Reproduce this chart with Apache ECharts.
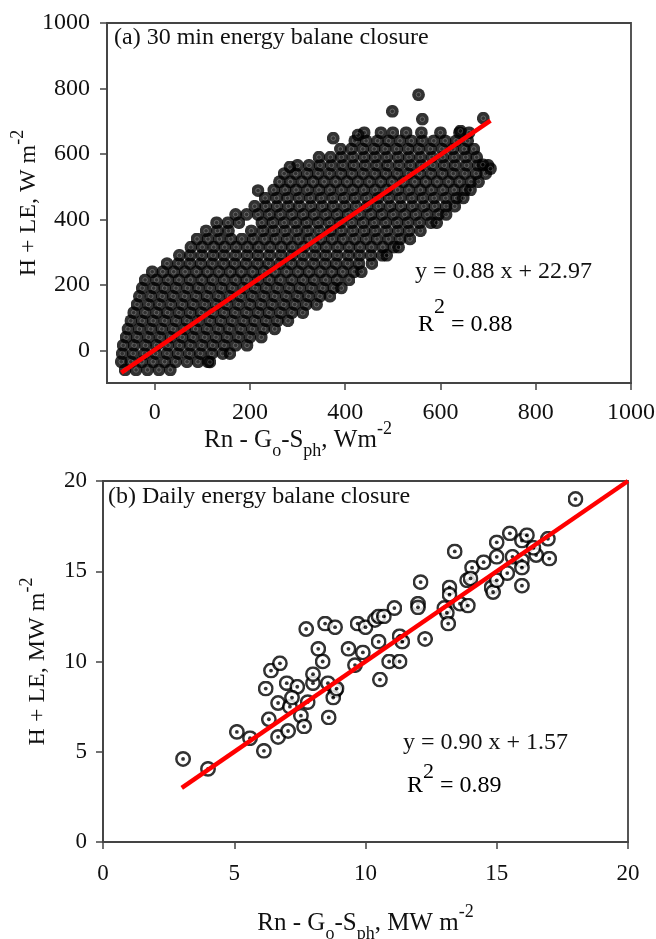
<!DOCTYPE html>
<html>
<head>
<meta charset="utf-8">
<script src="https://cdn.jsdelivr.net/npm/echarts@6/dist/echarts.min.js"></script>
<style>
  html, body { margin: 0; padding: 0; background: #fff; }
  #chart { width: 656px; height: 939px; }
</style>
</head>
<body>
<div id="chart"></div>
<script>
// (a) 30 min data, read row by row from the point cloud
var rowY = [-60, -35, -10, 15, 40, 65, 90, 115, 140, 165, 190, 215, 240, 265, 290, 315,
  340, 365, 390, 415, 440, 465, 490, 515, 540, 565, 590, 615, 640, 665];
var rowX = [
  [-62, -39, -15, 9, 33],
  [-70, -50, -27, -3, 21, 44, 68, 91, 112],
  [-68, -45, -21, 2, 26, 49, 73, 96, 120, 143, 158],
  [-66, -43, -19, 4, 28, 52, 75, 99, 122, 146, 170, 194],
  [-60, -37, -13, 11, 34, 58, 81, 105, 129, 152, 176, 200, 224],
  [-56, -32, -8, 15, 39, 63, 86, 110, 134, 157, 181, 205, 229, 252],
  [-50, -26, -3, 21, 45, 68, 92, 116, 139, 163, 187, 210, 234, 258, 280],
  [-44, -20, 4, 27, 51, 75, 98, 122, 146, 169, 193, 217, 240, 264, 288, 311],
  [-37, -13, 10, 34, 58, 81, 105, 129, 152, 176, 200, 223, 247, 271, 294, 318, 340],
  [-32, -8, 16, 39, 63, 87, 110, 134, 158, 181, 205, 229, 252, 276, 300, 323, 347, 368],
  [-26, -2, 21, 45, 69, 92, 116, 140, 163, 187, 211, 234, 258, 282, 305, 329, 353, 376, 392],
  [-20, 4, 28, 51, 75, 99, 122, 146, 170, 193, 217, 241, 264, 288, 312, 335, 359, 383, 408],
  [-5, 17, 40, 64, 88, 111, 135, 159, 182, 206, 230, 253, 277, 301, 324, 348, 372, 395, 419, 434],
  [26, 50, 74, 97, 121, 145, 168, 192, 216, 239, 263, 287, 310, 334, 358, 381, 405, 429, 456],
  [52, 75, 99, 123, 146, 170, 194, 217, 241, 265, 288, 312, 336, 359, 383, 407, 430, 454, 478, 487],
  [76, 100, 124, 147, 171, 195, 218, 242, 266, 289, 313, 337, 360, 384, 408, 431, 455, 479, 502, 512],
  [89, 112, 136, 160, 183, 207, 231, 254, 278, 302, 325, 349, 373, 396, 420, 444, 467, 491, 515, 536],
  [108, 132, 155, 203, 227, 250, 274, 298, 321, 345, 369, 392, 416, 440, 463, 487, 511, 534, 558],
  [130, 154, 177, 225, 248, 272, 296, 319, 343, 367, 390, 414, 438, 461, 485, 509, 532, 556, 580, 592],
  [170, 193, 217, 241, 264, 288, 312, 335, 359, 383, 406, 430, 454, 477, 501, 525, 548, 572, 596, 612],
  [210, 233, 257, 281, 304, 328, 352, 375, 399, 423, 446, 470, 494, 517, 541, 565, 588, 612, 630],
  [232, 256, 279, 303, 327, 350, 374, 398, 421, 445, 469, 492, 516, 540, 563, 587, 611, 634, 648],
  [250, 274, 297, 321, 345, 368, 392, 416, 439, 463, 487, 510, 534, 558, 581, 605, 629, 652, 663],
  [262, 285, 309, 333, 356, 380, 404, 427, 451, 475, 498, 522, 546, 569, 593, 617, 640, 664, 680],
  [272, 296, 320, 343, 367, 391, 414, 438, 462, 485, 509, 533, 556, 580, 604, 627, 651, 675, 695],
  [300, 324, 347, 371, 395, 418, 442, 466, 489, 513, 537, 560, 584, 608, 631, 655, 679, 700],
  [345, 369, 392, 416, 440, 463, 487, 511, 534, 558, 582, 605, 629, 653, 676],
  [390, 413, 437, 461, 484, 508, 532, 555, 579, 603, 626, 650, 670],
  [420, 444, 468, 491, 515, 539, 562, 586, 610, 633, 657],
  [440, 475, 500, 528, 560, 600, 640, 660]
];
// scattered points outside the main cloud
var outliersA = [[217, 488], [284, 560], [375, 648], [427, 658], [499, 730], [554, 781],
  [562, 706], [642, 670], [690, 709], [689, 567], [705, 555], [116, -36]];
// red line as drawn (end points)
var fitA = [[-70, -68], [705, 702]];

// (b) daily data
var daily = [
  [3.05, 4.6], [4.0, 4.05], [5.1, 6.1], [5.6, 5.75], [6.13, 5.05], [6.67, 5.82],
  [7.05, 6.15], [6.32, 6.8], [6.67, 7.7], [7.12, 7.5], [7.0, 8.8], [7.4, 8.6],
  [7.2, 8.0], [6.2, 8.5], [6.4, 9.5], [6.74, 9.9], [7.54, 7.0], [7.66, 6.4],
  [7.8, 7.75], [8.0, 8.8], [8.0, 9.3], [8.6, 6.9], [8.57, 8.8], [8.85, 8.4],
  [8.77, 8.0], [8.2, 10.7], [8.37, 10.0], [7.74, 11.8], [8.46, 12.1], [8.84, 11.9],
  [9.7, 12.1], [10.0, 11.9], [10.36, 12.3], [10.5, 12.5], [10.7, 12.5], [11.1, 12.96],
  [9.35, 10.7], [9.9, 10.5], [10.5, 11.1], [11.3, 11.4], [11.4, 11.1], [9.6, 9.8],
  [10.9, 10.0], [11.3, 10.0], [10.55, 9.0], [8.9, 8.5], [12.1, 14.4], [12.0, 13.2],
  [12.0, 13.0], [12.27, 11.25], [13.4, 16.1], [13.0, 12.96], [13.1, 12.7], [13.15, 12.1],
  [13.2, 14.1], [13.2, 13.7], [13.6, 13.2], [13.9, 13.1], [13.87, 14.5], [14.06, 15.2],
  [14.0, 14.6], [14.5, 15.5], [14.8, 14.1], [14.86, 13.85], [15.0, 14.5], [15.0, 15.8],
  [15.0, 16.6], [15.5, 17.1], [15.4, 14.9], [15.6, 15.8], [15.96, 16.7], [16.15, 17.0],
  [15.96, 15.6], [15.96, 15.2], [15.96, 14.2], [16.5, 15.9], [16.95, 16.8], [17.0, 15.7],
  [16.4, 16.3], [18.0, 19.0]
];
var fitB = [[3.0, 3.0], [20, 20]];

var ticksA = [0, 200, 400, 600, 800, 1000];

var halfHourly = [];
for (var i = 0; i < rowY.length; i++) {
  for (var j = 0; j < rowX[i].length; j++) {
    halfHourly.push([rowX[i][j], rowY[i]]);
  }
}
halfHourly = halfHourly.concat(outliersA);

var FONT = 'Liberation Serif';
var AXC = '#444';

function svgUri(svg) {
  return 'image://data:image/svg+xml;charset=utf-8,' + encodeURIComponent(svg);
}
var dotA = svgUri("<svg xmlns='http://www.w3.org/2000/svg' width='26' height='26' viewBox='0 0 26 26'>" +
  "<circle cx='13' cy='13' r='12.8' fill='#000'/>" +
  "<circle cx='13' cy='13' r='4.6' fill='none' stroke='#5e5e5e' stroke-width='1.3'/></svg>");
var dotB = svgUri("<svg xmlns='http://www.w3.org/2000/svg' width='32' height='32' viewBox='0 0 32 32'>" +
  "<circle cx='16' cy='16' r='13.4' fill='#fff' stroke='#000' stroke-width='5'/>" +
  "<circle cx='16' cy='16' r='3.8' fill='#000'/></svg>");

function nameRich(size) {
  return {
    n: { fontFamily: FONT, fontSize: size, color: '#111', lineHeight: 40, verticalAlign: 'middle' },
    sup: { fontFamily: FONT, fontSize: 18, color: '#111', lineHeight: 20, verticalAlign: 'top' },
    sub: { fontFamily: FONT, fontSize: 18, color: '#111', lineHeight: 20, verticalAlign: 'bottom' }
  };
}
function eqRich(lh) {
  return {
    n: { fontFamily: FONT, fontSize: 24, color: '#111', lineHeight: lh, verticalAlign: 'bottom' },
    sup: { fontFamily: FONT, fontSize: 22, color: '#111', lineHeight: 16, verticalAlign: 'top' }
  };
}

function axisBase(min, max, labelSize, margin) {
  return {
    type: 'value', min: min, max: max,
    nameMoveOverlap: false,
    axisLine: { show: true, onZero: false, lineStyle: { color: AXC, width: 1.8 } },
    axisTick: { show: true, inside: false, length: 7, lineStyle: { color: AXC, width: 1.5 } },
    axisLabel: {
      fontFamily: FONT, fontSize: labelSize, color: '#111', margin: margin,
      formatter: function (v) { return String(v); }
    },
    splitLine: { show: false }
  };
}

var xa = axisBase(-100, 1000, 24, 18);
xa.gridIndex = 0;
xa.axisLabel.customValues = ticksA;
xa.axisTick.customValues = ticksA;
xa.name = '{n|Rn - G}{sub|o}{n|-S}{sub|ph}{n|, Wm}{sup|-2}';
xa.nameLocation = 'middle';
xa.nameGap = 37;
xa.nameTextStyle = { rich: nameRich(25), padding: [0, 142, 0, 0] };

var ya = axisBase(-100, 1000, 24, 17);
ya.gridIndex = 0;
ya.axisLabel.customValues = ticksA;
ya.axisTick.customValues = ticksA;
ya.name = '{n|H + LE, W m}{sup|-2}';
ya.nameLocation = 'middle';
ya.nameGap = 58;
ya.nameTextStyle = { rich: nameRich(24) };

var xb = axisBase(0, 20, 23, 20);
xb.gridIndex = 1;
xb.interval = 5;
xb.name = '{n|Rn - G}{sub|o}{n|-S}{sub|ph}{n|, MW m}{sup|-2}';
xb.nameLocation = 'middle';
xb.nameGap = 61;
xb.nameTextStyle = { rich: nameRich(25) };

var yb = axisBase(0, 20, 23, 16);
yb.gridIndex = 1;
yb.interval = 5;
yb.name = '{n|H + LE, MW m}{sup|-2}';
yb.nameLocation = 'middle';
yb.nameGap = 45;
yb.nameTextStyle = { rich: nameRich(24) };

var chart = echarts.init(document.getElementById('chart'));

var option = {
  animation: false,
  backgroundColor: '#fff',
  grid: [
    { left: 107, top: 23, width: 524, height: 360, show: true, borderColor: AXC, borderWidth: 1.8,
      backgroundColor: 'transparent', containLabel: false, outerBoundsMode: 'none' },
    { left: 103, top: 481, width: 525, height: 361, show: true, borderColor: AXC, borderWidth: 1.8,
      backgroundColor: 'transparent', containLabel: false, outerBoundsMode: 'none' }
  ],
  xAxis: [xa, xb],
  yAxis: [ya, yb],
  graphic: [
    { type: 'text', left: 114, top: 26, style: { text: '(a) 30 min energy balane closure', fontFamily: FONT, fontSize: 24, fill: '#111' } },
    { type: 'text', left: 415, top: 260, style: { text: 'y = 0.88 x + 22.97', fontFamily: FONT, fontSize: 24, fill: '#111' } },
    { type: 'text', left: 418, top: 296, style: { text: '{n|R}{sup|2}{n| = 0.88}', rich: eqRich(41) } },
    { type: 'text', left: 108, top: 485, style: { text: '(b) Daily energy balane closure', fontFamily: FONT, fontSize: 24, fill: '#111' } },
    { type: 'text', left: 403, top: 731, style: { text: 'y = 0.90 x + 1.57', fontFamily: FONT, fontSize: 24, fill: '#111' } },
    { type: 'text', left: 407, top: 761, style: { text: '{n|R}{sup|2}{n| = 0.89}', rich: eqRich(37) } }
  ],
  series: [
    {
      name: '30 min', type: 'scatter', xAxisIndex: 0, yAxisIndex: 0,
      symbol: dotA, symbolSize: 13, data: halfHourly, silent: true
    },
    {
      name: 'fit a', type: 'line', xAxisIndex: 0, yAxisIndex: 0,
      data: fitA, showSymbol: false, symbol: 'none', silent: true,
      lineStyle: { color: '#ff0000', width: 4.5 }
    },
    {
      name: 'daily', type: 'scatter', xAxisIndex: 1, yAxisIndex: 1,
      symbol: dotB, symbolSize: 16, data: daily, silent: true
    },
    {
      name: 'fit b', type: 'line', xAxisIndex: 1, yAxisIndex: 1,
      data: fitB, showSymbol: false, symbol: 'none', silent: true,
      lineStyle: { color: '#ff0000', width: 4.5 }
    }
  ]
};

chart.setOption(option);
</script>
</body>
</html>
